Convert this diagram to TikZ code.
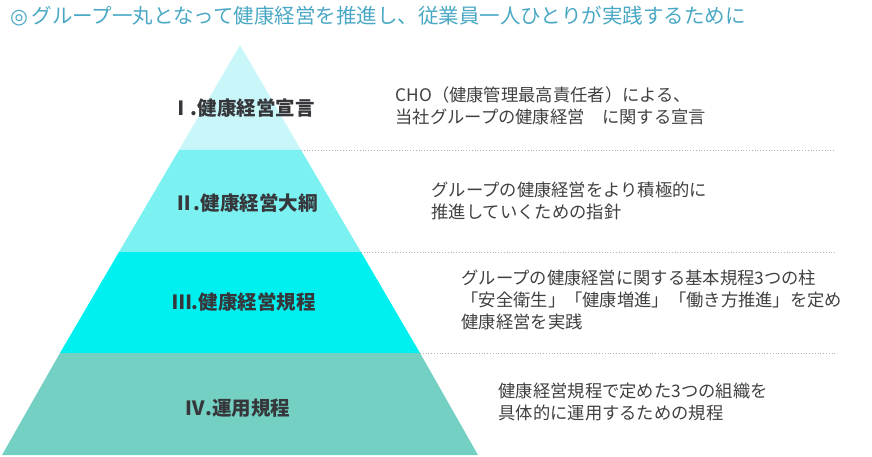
\documentclass[tikz,border=0pt]{standalone}
\usepackage{fontspec}
\setmainfont{Noto Sans CJK JP}
\newfontfamily\dejavu{DejaVu Sans}
\begin{document}
\begin{tikzpicture}[x=1pt,y=-1pt,
  lbl/.style={font=\fontsize{19.5}{22}\selectfont\bfseries, text=black!80!cyan!60!black},
  desc/.style={font=\fontsize{17.3}{22}\selectfont, text=black!75, align=left, anchor=west},
  sep/.style={gray!60, dotted, line width=0.8pt}]
\useasboundingbox (0,0) rectangle (872,457);
\definecolor{c1}{HTML}{C9F7F9}
\definecolor{c2}{HTML}{7BF1F2}
\definecolor{c3}{HTML}{00F0F0}
\definecolor{c4}{HTML}{73D0C2}
\definecolor{tt}{HTML}{4AA8C4}
\node[anchor=west, text=tt, font=\fontsize{20.5}{22}\selectfont, inner sep=0pt] (title) at (10,16) {{\dejavu\bfseries ◎}\,グループ一丸となって健康経営を推進し、従業員一人ひとりが実践するために};
\fill[c1] (240,45) -- (301,150) -- (179,150) -- cycle;
\fill[c2] (179,150) -- (301,150) -- (361,252) -- (119,252) -- cycle;
\fill[c3] (119,252) -- (361,252) -- (420,353) -- (60,353) -- cycle;
\fill[c4] (60,353) -- (420,353) -- (478,455) -- (2,455) -- cycle;
\coordinate (s1a) at (301,150); \coordinate (s1b) at (835,150);
\coordinate (s2a) at (361,252); \coordinate (s2b) at (835,252);
\coordinate (s3a) at (420,353); \coordinate (s3b) at (835,353);
\draw[sep] (s1a) -- (s1b);
\draw[sep] (s2a) -- (s2b);
\draw[sep] (s3a) -- (s3b);
\node[lbl] (l1) at (243,108) {Ⅰ.健康経営宣言};
\node[lbl] (l2) at (246,203) {Ⅱ.健康経営大綱};
\node[lbl] (l3) at (244,302) {Ⅲ.健康経営規程};
\node[lbl] (l4) at (238,408) {Ⅳ.運用規程};
\node[desc] (d1) at (392,106) {CHO（健康管理最高責任者）による、\\当社グループの健康経営　に関する宣言};
\node[desc] (d2) at (428,201) {グループの健康経営をより積極的に\\推進していくための指針};
\node[desc] (d3) at (458,300) {グループの健康経営に関する基本規程3つの柱\\「安全衛生」「健康増進」「働き方推進」を定め\\健康経営を実践};
\node[desc] (d4) at (495,402) {健康経営規程で定めた3つの組織を\\具体的に運用するための規程};
\end{tikzpicture}
\end{document}
